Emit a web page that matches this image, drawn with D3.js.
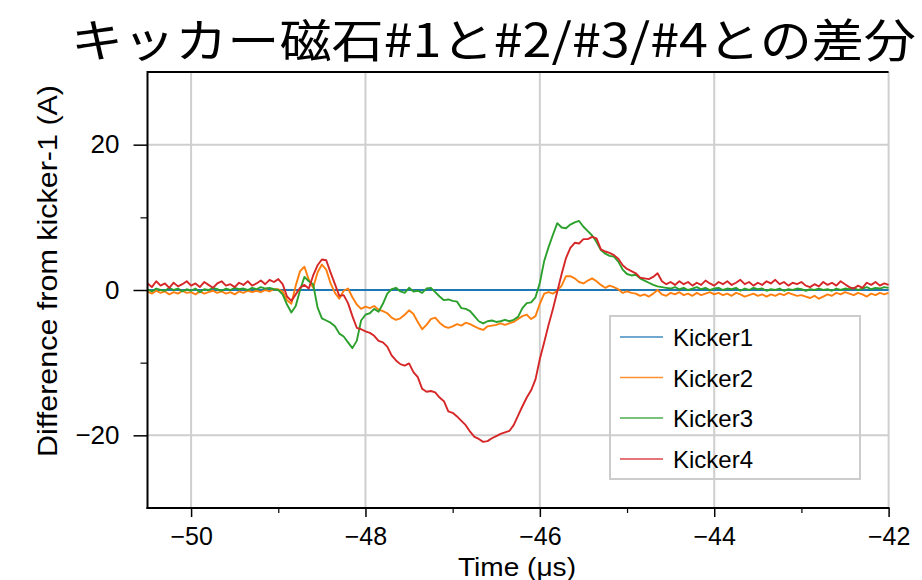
<!DOCTYPE html>
<html>
<head>
<meta charset="utf-8">
<script src="https://cdn.jsdelivr.net/npm/d3@7"></script>
<style>
  html, body { margin: 0; padding: 0; background: #fff; }
  svg { display: block; }
</style>
</head>
<body>
<svg id="chart" width="922" height="580"></svg>
<script>
// Sampling grid: traces are sampled every 0.05 µs from -50.5 µs to -42 µs
const tStart = -50.5;
const tStep = 0.05;
const nSamples = 171;

// Tick values and labels
const xMajorTicks = [-50, -48, -46, -44, -42];
const xMinorTicks = [-49, -47, -45, -43];
const yMajorTicks = [-20, 0, 20];
const yMinorTicks = [-10, 10];

const seriesNames = ["Kicker1", "Kicker2", "Kicker3", "Kicker4"];
const seriesColors = ["#1f77b4", "#ff7f0e", "#2ca02c", "#d62728"];

// Kicker1 is the reference itself: a flat zero line over the full window
const kicker1Times = [-50.5, -42];
const kicker1 = [0, 0];

// Difference currents (A), one value per sample on the grid above
const kicker2 = [
  -0.2,-0.5,-0.1,-0.4,-0.2,-0.6,-0.3,-0.5,-0.1,-0.4,
  -0.3,-0.6,-0.2,-0.5,-0.3,-0.1,-0.4,-0.2,-0.5,-0.3,
  -0.6,-0.2,-0.4,-0.1,-0.3,-0.1,-0.3,0.0,-0.2,0.1,
  0.1,-0.2,-1.4,-1.9,0.6,2.6,3.2,1.4,0.3,2.4,
  3.5,2.8,0.9,-0.4,-1.2,-0.1,0.2,-1.0,-2.0,-2.6,
  -2.3,-2.5,-2.2,-2.7,-2.9,-3.2,-3.8,-4.1,-3.9,-3.4,
  -2.8,-3.3,-4.4,-5.4,-4.8,-4.0,-3.8,-4.5,-5.0,-5.2,
  -5.0,-4.7,-4.9,-4.5,-4.7,-5.0,-5.3,-5.5,-5.0,-4.9,
  -4.8,-4.6,-4.8,-4.6,-4.4,-4.0,-3.6,-3.4,-4.0,-3.6,
  -1.9,-0.5,-0.3,-0.5,-0.1,0.6,1.9,1.9,1.6,1.1,
  0.9,1.3,1.6,1.2,0.7,0.3,0.6,0.4,0.1,-0.4,
  -0.2,-0.4,-0.5,-0.8,-0.6,-0.9,-0.5,0.0,-0.6,-0.8,
  -0.4,-0.6,-0.3,-0.7,-0.5,-0.8,-0.4,-0.7,-0.5,-0.3,
  -0.6,-0.4,-0.7,-0.5,-0.8,-0.4,-0.6,-0.9,-0.7,-0.5,
  -0.8,-0.6,-0.9,-0.6,-0.8,-0.5,-0.7,-0.4,-0.6,-0.8,
  -0.7,-0.9,-1.1,-0.8,-1.2,-0.9,-0.6,-0.8,-0.4,-0.6,
  -0.3,-0.5,-0.7,-0.4,-0.6,-0.9,-0.5,-0.7,-0.4,-0.6,
  -0.4
];

const kicker3 = [
  0.1,-0.2,0.2,0.0,-0.1,0.3,0.0,0.2,-0.2,0.1,
  -0.1,0.2,-0.3,0.1,0.0,0.3,0.1,-0.1,0.2,0.0,
  0.3,0.1,0.2,0.0,0.3,0.1,0.4,0.2,0.3,0.1,
  0.0,-0.6,-2.0,-3.1,-2.2,0.0,1.8,1.2,0.8,-2.4,
  -3.9,-4.2,-4.5,-5.0,-6.0,-6.4,-7.2,-8.0,-7.0,-4.2,
  -3.4,-3.2,-2.6,-3.0,-1.9,-0.5,0.1,0.3,-0.2,-0.4,
  0.3,-0.2,-0.1,-0.4,0.2,0.3,-0.3,-0.9,-1.4,-1.3,
  -1.5,-1.6,-2.5,-2.6,-2.9,-3.6,-4.3,-4.6,-4.3,-4.2,
  -4.4,-4.3,-4.1,-4.3,-4.1,-3.7,-2.5,-1.8,-1.7,-1.0,
  1.0,4.0,5.9,7.6,9.2,8.6,8.5,9.0,9.3,9.5,
  8.7,8.1,7.5,6.6,5.5,5.0,4.7,4.6,3.9,2.8,
  2.2,2.0,2.1,1.6,1.3,1.0,0.7,0.5,0.4,0.3,
  0.2,0.4,0.1,0.3,0.0,0.2,0.4,0.1,0.3,0.0,
  0.2,0.3,0.0,0.2,0.1,0.3,-0.1,0.2,0.0,0.3,
  0.1,0.2,-0.1,0.1,0.0,0.2,-0.1,0.1,0.0,0.2,
  0.1,-0.1,0.1,0.0,0.2,0.0,0.1,-0.1,0.2,0.0,
  0.2,0.1,0.3,0.0,0.2,0.4,0.1,0.3,0.2,0.4,
  0.3
];

const kicker4 = [
  0.9,0.4,1.2,0.6,0.9,0.3,1.0,0.5,0.8,1.2,
  0.6,0.9,0.4,1.1,0.7,0.3,0.9,1.2,0.6,0.8,
  0.4,1.0,0.7,1.2,0.6,0.9,1.3,0.8,1.4,1.1,
  1.5,0.8,-0.9,-1.5,-0.6,0.3,0.7,0.2,2.0,3.4,
  4.2,4.1,2.4,0.8,-0.8,-0.7,-1.8,-3.6,-5.2,-5.4,
  -5.7,-5.9,-6.3,-7.0,-7.2,-7.8,-9.0,-9.7,-10.2,-10.4,
  -10.1,-11.3,-12.0,-13.6,-14.0,-13.9,-14.1,-14.8,-15.3,-16.7,
  -16.9,-17.4,-18.0,-18.6,-19.5,-20.2,-20.5,-20.9,-20.8,-20.4,
  -20.1,-19.8,-19.6,-19.4,-18.6,-17.3,-16.0,-14.8,-13.8,-12.3,
  -9.5,-7.2,-4.8,-2.6,-0.2,2.2,4.4,5.8,6.5,6.4,
  7.0,7.0,7.3,7.1,5.6,5.3,5.1,4.8,4.3,3.4,
  2.9,2.6,2.3,1.7,1.6,1.5,1.8,2.3,1.2,0.8,
  1.1,0.7,1.2,0.8,1.1,0.6,1.0,0.7,1.3,0.9,
  0.6,1.1,0.8,1.2,0.7,1.0,1.4,0.8,1.1,0.6,
  1.0,0.7,1.2,0.9,1.4,0.8,1.1,0.6,1.0,0.8,
  1.1,0.6,0.4,0.8,0.5,1.1,0.7,1.0,0.6,1.2,
  0.8,0.4,0.2,0.6,0.3,1.0,0.7,1.1,0.6,0.9,
  0.7
];

const times = d3.range(nSamples).map(i => tStart + i * tStep);

const series = [
  { name: seriesNames[0], color: seriesColors[0], pts: kicker1Times.map((t, i) => [t, kicker1[i]]) },
  { name: seriesNames[1], color: seriesColors[1], pts: times.map((t, i) => [t, kicker2[i]]) },
  { name: seriesNames[2], color: seriesColors[2], pts: times.map((t, i) => [t, kicker3[i]]) },
  { name: seriesNames[3], color: seriesColors[3], pts: times.map((t, i) => [t, kicker4[i]]) }
];

const svg = d3.select("#chart");
const plotLeft = 147.5, plotRight = 888.6, plotTop = 72, plotBottom = 508;

const x = d3.scaleLinear().domain([-50.5, -42]).range([plotLeft, plotRight]);
const y = d3.scaleLinear().domain([-30, 30]).range([plotBottom, plotTop]);

const fmt = v => (v < 0 ? "\u2212" + Math.abs(v) : String(v));
const font = "'Liberation Sans', Arial, Helvetica, sans-serif";

// Grid
const grid = svg.append("g").attr("stroke", "#cfcfcf").attr("stroke-width", 2);
xMajorTicks.forEach(v => grid.append("line")
  .attr("x1", x(v)).attr("x2", x(v)).attr("y1", plotTop).attr("y2", plotBottom));
yMajorTicks.forEach(v => grid.append("line")
  .attr("x1", plotLeft).attr("x2", plotRight).attr("y1", y(v)).attr("y2", y(v)));

// Traces
const line = d3.line().x(d => x(d[0])).y(d => y(d[1]));
const plot = svg.append("g");
series.forEach((s, i) => {
  plot.append("path")
    .attr("d", line(s.pts))
    .attr("fill", "none")
    .attr("stroke", s.color)
    .attr("stroke-width", i === 0 ? 1.8 : 1.9)
    .attr("stroke-linejoin", "round");
});

// Spines (left, top, bottom)
const spines = svg.append("g").attr("stroke", "#000").attr("stroke-width", 2).attr("fill", "none");
spines.append("path").attr("d", `M${plotLeft},${plotTop}H${plotRight}`);
spines.append("path").attr("d", `M${plotLeft},${plotTop - 1}V${plotBottom + 1}`);
spines.append("path").attr("d", `M${plotLeft - 1},${plotBottom}H${plotRight + 1}`);

// X axis ticks (outward)
const xAxis = d3.axisBottom(x).tickValues(xMajorTicks).tickSize(9).tickPadding(10).tickFormat(fmt);
const gx = svg.append("g").attr("transform", `translate(0,${plotBottom})`).call(xAxis);
gx.select(".domain").remove();
gx.selectAll("line").attr("stroke", "#000").attr("stroke-width", 1.5);
gx.selectAll("text").attr("font-family", font).attr("font-size", 25).attr("fill", "#000");
const xMinor = d3.axisBottom(x).tickValues(xMinorTicks).tickSize(5).tickFormat("");
const gxm = svg.append("g").attr("transform", `translate(0,${plotBottom})`).call(xMinor);
gxm.select(".domain").remove();
gxm.selectAll("line").attr("stroke", "#000").attr("stroke-width", 1.2);

// Y axis ticks (outward)
const yAxis = d3.axisLeft(y).tickValues(yMajorTicks).tickSize(14).tickPadding(14).tickFormat(fmt);
const gy = svg.append("g").attr("transform", `translate(${plotLeft},0)`).call(yAxis);
gy.select(".domain").remove();
gy.selectAll("line").attr("stroke", "#000").attr("stroke-width", 1.5);
gy.selectAll("text").attr("font-family", font).attr("font-size", 26).attr("fill", "#000");
const yMinor = d3.axisLeft(y).tickValues(yMinorTicks).tickSize(7).tickFormat("");
const gym = svg.append("g").attr("transform", `translate(${plotLeft},0)`).call(yMinor);
gym.select(".domain").remove();
gym.selectAll("line").attr("stroke", "#000").attr("stroke-width", 1.2);

// Axis labels
svg.append("text")
  .attr("x", 517).attr("y", 576)
  .attr("text-anchor", "middle")
  .attr("font-family", font).attr("font-size", 25)
  .attr("textLength", 118)
  .attr("lengthAdjust", "spacingAndGlyphs")
  .text("Time (\u03bcs)");

svg.append("text")
  .attr("transform", "translate(57,271) rotate(-90)")
  .attr("text-anchor", "middle")
  .attr("font-family", font).attr("font-size", 27)
  .attr("textLength", 372)
  .attr("lengthAdjust", "spacingAndGlyphs")
  .text("Difference from kicker-1 (A)");

// Title
svg.append("text")
  .attr("x", 71).attr("y", 57)
  .attr("font-family", "'Noto Sans CJK JP', sans-serif")
  .attr("font-size", 46)
  .attr("textLength", 845)
  .attr("lengthAdjust", "spacingAndGlyphs")
  .text("キッカー磁石#1と#2/#3/#4との差分");

// Legend
const legend = svg.append("g");
legend.append("rect")
  .attr("x", 610).attr("y", 316).attr("width", 250).attr("height", 163)
  .attr("fill", "none").attr("stroke", "#cccccc").attr("stroke-width", 2);
const legendRows = [337, 377.5, 418, 459];
series.forEach((s, i) => {
  legend.append("line")
    .attr("x1", 620).attr("x2", 663)
    .attr("y1", legendRows[i]).attr("y2", legendRows[i])
    .attr("stroke", s.color).attr("stroke-width", 1.3).attr("stroke-opacity", 0.85);
  legend.append("text")
    .attr("x", 673).attr("y", legendRows[i] + 9)
    .attr("font-family", font).attr("font-size", 24)
    .text(s.name);
});
</script>
</body>
</html>
